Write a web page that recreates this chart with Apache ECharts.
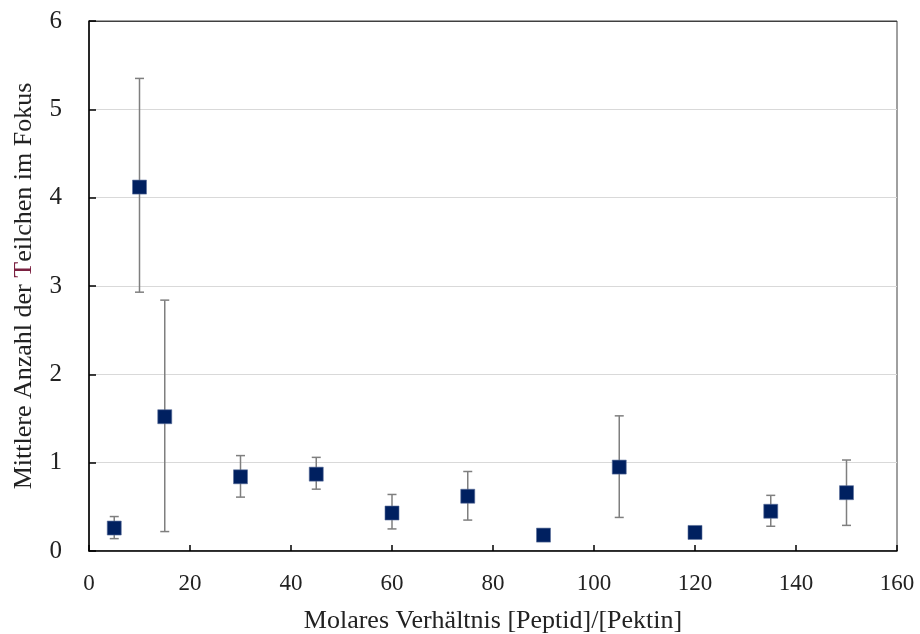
<!DOCTYPE html>
<html>
<head>
<meta charset="utf-8">
<script src="https://cdn.jsdelivr.net/npm/echarts@6/dist/echarts.min.js"></script>
<style>
  html, body { margin: 0; padding: 0; background: #fff; }
  #main { width: 920px; height: 634px; }
</style>
</head>
<body>
<div id="main"></div>
<script>
// Messwerte
var ratio = [5, 10, 15, 30, 45, 60, 75, 90, 105, 120, 135, 150];
var meanCount = [0.26, 4.12, 1.52, 0.84, 0.87, 0.43, 0.62, 0.18, 0.95, 0.21, 0.45, 0.66];
var errLow = [0.14, 2.93, 0.22, 0.61, 0.70, 0.25, 0.35, 0.18, 0.38, 0.21, 0.28, 0.29];
var errHigh = [0.39, 5.35, 2.84, 1.08, 1.06, 0.64, 0.90, 0.18, 1.53, 0.21, 0.63, 1.03];

var serif = '"Liberation Serif", "DejaVu Serif", serif';

var points = [];
var bars = [];
for (var i = 0; i < ratio.length; i++) {
    points.push([ratio[i], meanCount[i]]);
    bars.push([ratio[i], errLow[i], errHigh[i]]);
}

var myChart = echarts.init(document.getElementById('main'));

var option = {
    backgroundColor: '#fff',
    animation: false,
    grid: {
        left: 89,
        right: 23,
        top: 21,
        bottom: 83,
        outerBoundsMode: 'none',
        containLabel: false,
        show: true,
        borderColor: '#404040',
        borderWidth: 1
    },
    xAxis: {
        type: 'value',
        min: 0,
        max: 160,
        interval: 20,
        name: 'Molares Verhältnis [Peptid]/[Pektin]',
        nameLocation: 'middle',
        nameGap: 57,
        nameTextStyle: { fontFamily: serif, fontSize: 26, color: '#222' },
        axisLine: { lineStyle: { color: '#000', width: 1.5 } },
        axisTick: { inside: true, length: 6, lineStyle: { color: '#000', width: 1.5 } },
        axisLabel: { fontFamily: serif, fontSize: 23, color: '#222', margin: 21 },
        splitLine: { show: false }
    },
    yAxis: {
        type: 'value',
        min: 0,
        max: 6,
        interval: 1,
        name: '{a|Mittlere Anzahl der }{t|T}{a|eilchen im Fokus}',
        nameLocation: 'middle',
        nameGap: 52,
        nameTextStyle: {
            fontFamily: serif, fontSize: 26, color: '#222',
            rich: {
                a: { fontFamily: serif, fontSize: 26, color: '#222' },
                t: { fontFamily: serif, fontSize: 26, color: '#7a2040' }
            }
        },
        axisLine: { lineStyle: { color: '#000', width: 1.5 } },
        axisTick: { inside: true, length: 7, lineStyle: { color: '#000', width: 1.5 } },
        axisLabel: { fontFamily: serif, fontSize: 25, color: '#222', margin: 27 },
        splitLine: {
            show: true,
            lineStyle: {
                color: ['#d9d9d9', '#d9d9d9', '#d9d9d9', '#d9d9d9', '#d9d9d9', '#d9d9d9', '#404040'],
                width: 1
            }
        }
    },
    series: [
        {
            name: 'Fehler',
            type: 'custom',
            data: bars,
            z: 2,
            renderItem: function (params, api) {
                var x = api.value(0);
                var lo = api.coord([x, api.value(1)]);
                var hi = api.coord([x, api.value(2)]);
                var cap = 4.5;
                var st = { stroke: '#7f7f7f', lineWidth: 1.5 };
                return {
                    type: 'group',
                    children: [
                        { type: 'line', shape: { x1: hi[0], y1: hi[1], x2: lo[0], y2: lo[1] }, style: st },
                        { type: 'line', shape: { x1: hi[0] - cap, y1: hi[1], x2: hi[0] + cap, y2: hi[1] }, style: st },
                        { type: 'line', shape: { x1: lo[0] - cap, y1: lo[1], x2: lo[0] + cap, y2: lo[1] }, style: st }
                    ]
                };
            }
        },
        {
            name: 'Mittelwert',
            type: 'scatter',
            data: points,
            symbol: 'rect',
            symbolSize: 14,
            z: 3,
            itemStyle: { color: '#002060', borderColor: '#5a6f9a', borderWidth: 0.6, opacity: 1 }
        }
    ]
};

myChart.setOption(option);
</script>
</body>
</html>
